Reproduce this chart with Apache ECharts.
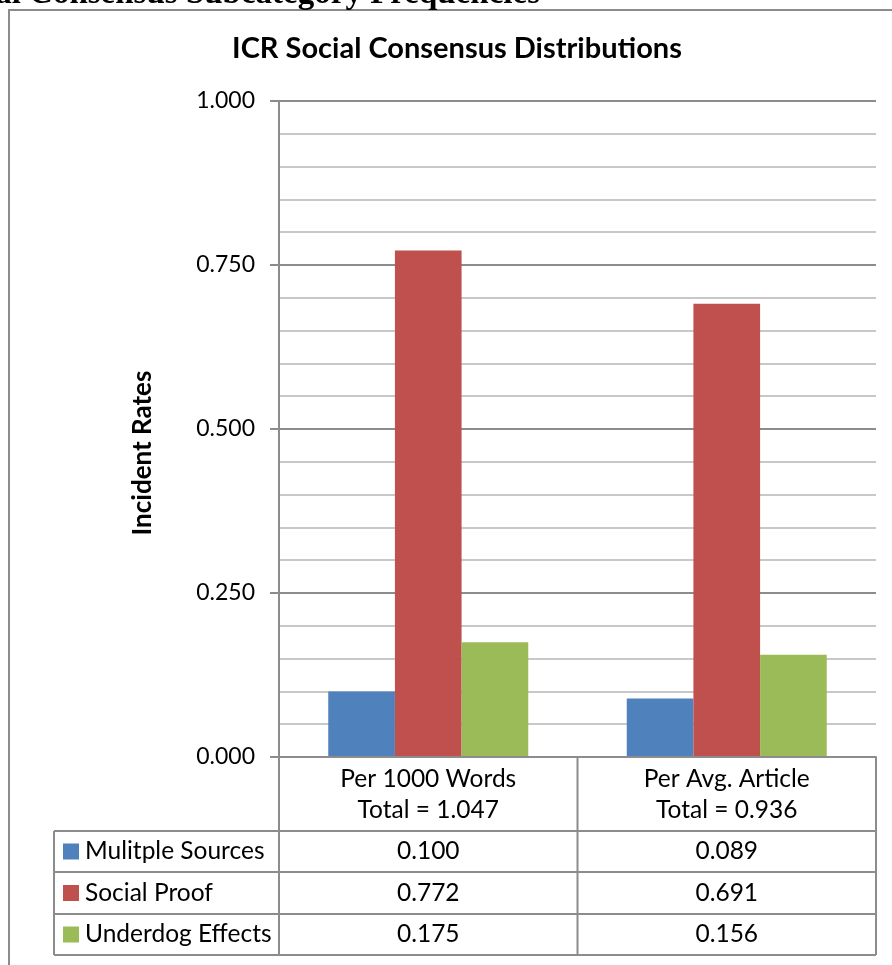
<!DOCTYPE html>
<html>
<head>
<meta charset="utf-8">
<title>ICR Social Consensus Distributions</title>
<script src="https://cdn.jsdelivr.net/npm/echarts@6/dist/echarts.min.js"></script>
<style>
    html, body {margin: 0; padding: 0; background: #fff;}
    #chart_id {width: 892px; height: 965px;}
</style>
</head>
<body>
<div id="chart_id"></div>
<script>
//数据
var categories = ['Per 1000 Words', 'Per Avg. Article'];
var seriesNames = ['Mulitple Sources', 'Social Proof', 'Underdog Effects'];
var multipleSources = [0.100, 0.089];
var socialProof = [0.772, 0.691];
var underdogEffects = [0.175, 0.156];
var yTickLabels = ['0.000', '0.250', '0.500', '0.750', '1.000'];

var colors = ['#4F81BD', '#C0504D', '#9BBB59'];
var fontName = 'Lato';
var labelSize = 23;
var tableSize = 24.5;
var lineColor = '#8C8C8C';

//版面
var plotLeft = 279, plotRight = 876, plotTop = 101, plotBottom = 757;
var tableLeft = 54;
var rowLines = [831, 872, 914, 955];

window.onload = function () {
    initChart();
};

function initChart() {
    var myChart = echarts.init(document.getElementById('chart_id'));
    var seriesData = [multipleSources, socialProof, underdogEffects];

    var totals = [];
    for (var c = 0; c < categories.length; c++) {
        var sum = 0;
        for (var s = 0; s < seriesData.length; s++) {
            sum += seriesData[s][c];
        }
        totals[c] = sum;
    }

    var series = [];
    for (var i = 0; i < seriesNames.length; i++) {
        series.push({
            name: seriesNames[i],
            type: 'bar',
            yAxisIndex: 0,
            data: seriesData[i],
            barGap: '0%',
            barCategoryGap: '33%',
            itemStyle: {color: colors[i]}
        });
    }

    //表格
    var graphics = [];
    var colMid = (plotLeft + plotRight) / 2;
    var colCenters = [(plotLeft + colMid) / 2, (colMid + plotRight) / 2];
    var vLines = [[plotLeft, plotBottom], [colMid, plotBottom], [plotRight, plotBottom], [tableLeft, rowLines[0]]];
    for (var v = 0; v < vLines.length; v++) {
        graphics.push({
            type: 'line', z: 10,
            shape: {x1: vLines[v][0], y1: vLines[v][1], x2: vLines[v][0], y2: rowLines[rowLines.length - 1]},
            style: {stroke: lineColor, lineWidth: 2}
        });
    }
    for (var h = 0; h < rowLines.length; h++) {
        graphics.push({
            type: 'line', z: 10,
            shape: {x1: tableLeft, y1: rowLines[h], x2: plotRight, y2: rowLines[h]},
            style: {stroke: lineColor, lineWidth: 2}
        });
    }
    for (var r = 0; r < seriesNames.length; r++) {
        var cy = (rowLines[r] + rowLines[r + 1]) / 2;
        graphics.push({
            type: 'rect', z: 10,
            shape: {x: 63, y: cy - 8, width: 16, height: 16},
            style: {fill: colors[r]}
        });
        graphics.push({
            type: 'text', z: 10, x: 85, y: cy,
            style: {text: seriesNames[r], fill: '#000', font: tableSize + 'px ' + fontName, align: 'left', verticalAlign: 'middle'}
        });
        for (var k = 0; k < categories.length; k++) {
            graphics.push({
                type: 'text', z: 10, x: colCenters[k], y: cy,
                style: {text: seriesData[r][k].toFixed(3), fill: '#000', font: tableSize + 'px ' + fontName, align: 'center', verticalAlign: 'middle'}
            });
        }
    }
    //外框和标题
    graphics.push({
        type: 'rect', z: 1,
        shape: {x: 9, y: 10, width: 900, height: 980},
        style: {fill: null, stroke: lineColor, lineWidth: 2}
    });
    //页面上被截掉的标题
    graphics.push({
        type: 'text', z: 10, x: 540, y: -6,
        style: {text: 'ICR Social Consensus Subcategory Frequencies', fill: '#000', font: 'bold 33px "Liberation Serif"', align: 'right', verticalAlign: 'middle'}
    });
    graphics.push({
        type: 'text', z: 10, x: 457, y: 49,
        style: {text: 'ICR Social Consensus Distributions', fill: '#000', font: 'bold 29px ' + fontName, align: 'center', verticalAlign: 'middle'}
    });
    graphics.push({
        type: 'text', z: 10, x: 143, y: 453, rotation: Math.PI / 2,
        style: {text: 'Incident Rates', fill: '#000', font: 'bold 26px ' + fontName, align: 'center', verticalAlign: 'middle'}
    });

    var option = {
        animation: false,
        textStyle: {fontFamily: fontName},
        grid: {
            left: plotLeft,
            right: 892 - plotRight,
            top: plotTop,
            bottom: 965 - plotBottom
        },
        xAxis: {
            type: 'category',
            data: categories,
            axisLine: {lineStyle: {color: lineColor, width: 2}},
            axisTick: {show: false},
            axisLabel: {
                color: '#000',
                fontSize: tableSize,
                lineHeight: 31,
                margin: 7,
                formatter: function (value, index) {
                    return value + '\nTotal = ' + totals[index].toFixed(3);
                }
            },
            z: 5
        },
        yAxis: [
            {
                type: 'value',
                min: 0, max: 1, interval: 0.05,
                axisLine: {show: false},
                axisTick: {show: false},
                axisLabel: {show: false},
                splitLine: {lineStyle: {color: [lineColor, '#C8C8C8', '#C8C8C8', '#C8C8C8', '#C8C8C8'], width: 2}}
            },
            {
                type: 'value',
                position: 'left',
                min: 0, max: 1, interval: 0.25,
                axisLine: {show: true, lineStyle: {color: lineColor, width: 2}},
                axisTick: {show: true, length: 9, lineStyle: {color: lineColor, width: 2}},
                axisLabel: {
                    color: '#000',
                    fontSize: labelSize,
                    margin: 24,
                    formatter: function (value) {
                        return yTickLabels[Math.round(value / 0.25)];
                    }
                },
                splitLine: {show: false}
            }
        ],
        series: series,
        graphic: graphics
    };
    myChart.setOption(option, true);
}
</script>
</body>
</html>
